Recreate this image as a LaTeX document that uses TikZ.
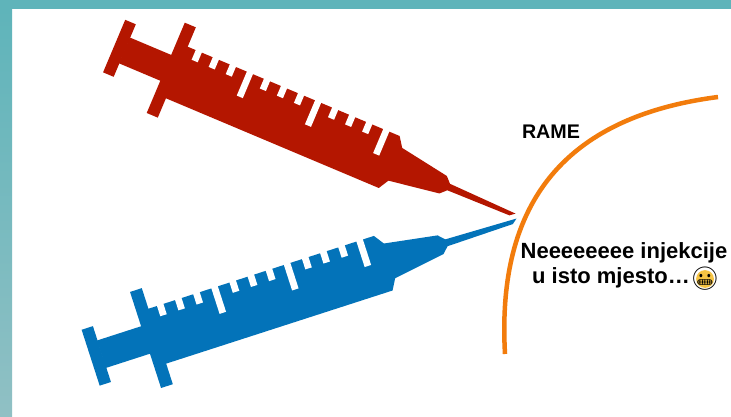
\documentclass[tikz,border=0pt]{standalone}
\usepackage{fontspec}
\setmainfont{Liberation Sans}
\newfontfamily\emojifont{Noto Emoji}
\usetikzlibrary{positioning}
\definecolor{tealc}{HTML}{5FB4BA}
\definecolor{tealsoft}{HTML}{90C0C4}
\definecolor{redc}{HTML}{B41600}
\definecolor{bluec}{HTML}{0373B9}
\definecolor{orangec}{HTML}{F27C0C}
\definecolor{facec}{HTML}{F6C444}
\tikzset{
  syringe/.pic={
    \fill[#1] (-435,-28.5) rectangle (-423.5,28.5);
    \fill[#1] (-424,-14) rectangle (-378,14);
    \fill[#1] (-379,-49) rectangle (-367,49);
    \fill[#1] (-368,28) -- (-137,28) -- (-130,18) -- (-78,9.5) -- (-72,3.5) -- (0,1.5)
      -- (-5,-2.5) -- (-72,-3.5) -- (-78,-9.5) -- (-130,-17.5) -- (-136,-28) -- (-368,-28) -- cycle;
    \foreach \k in {0,...,11}{
      \pgfmathsetmacro\sx{-355+18.5*\k}
      \pgfmathsetmacro\sy{ifthenelse(mod(\k,4)==3,2,17.5)}
      \fill[white] (\sx-3.3,\sy) rectangle (\sx+3.3,29);
    }
  },
  lbl/.style={inner sep=0pt,font=\bfseries\fontsize{22}{22}\selectfont},
  emo/.style={inner sep=0pt,font=\emojifont\fontsize{23}{23}\selectfont}
}

\begin{document}
\begin{tikzpicture}[x=1pt,y=1pt]
\useasboundingbox (0,0) rectangle (731,416);
\fill[white] (0,0) rectangle (731,416);
\fill[tealc] (0,407) rectangle (731,416);
\shade[top color=tealc,bottom color=tealsoft] (0,0) rectangle (12,407);
\pic[scale=1.03,rotate=17.9] at (517,196) {syringe=bluec};
\pic[rotate=-22.85] at (515,201) {syringe=redc};
\draw[orangec,line width=4.5pt] (505,62) .. controls (498,186) and (540,296) .. (718,319);
\node[lbl,font=\bfseries\fontsize{19.7}{19.7}\selectfont] (rame) at (551,284) {RAME};
\node[lbl,anchor=base] (msgtop) at (624,158) {Neeeeeeee injekcije};
\node[lbl,anchor=base east] (msgbot) at (690,133) {u isto mjesto…};
\fill[facec] (705,137) circle (8.9);
\node[emo] (face) at (705,137) {😬};
\end{tikzpicture}
\end{document}
